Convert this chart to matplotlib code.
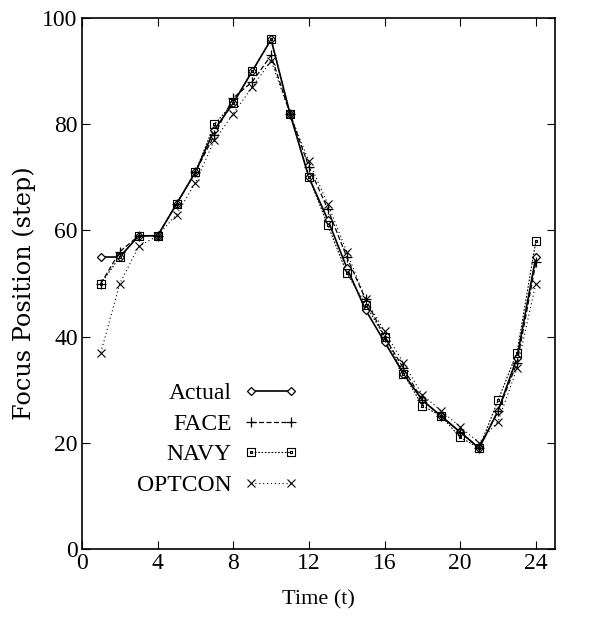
import numpy as np
import matplotlib
matplotlib.use("Agg")
import matplotlib.pyplot as plt
from matplotlib.path import Path

t = list(range(1, 25))
actual = [55, 55, 59, 59, 65, 71, 79, 84, 90, 96, 82, 70, 62, 53, 45, 39, 33, 28, 25, 22, 19, 26, 36, 55]
face = [50, 56, 59, 59, 65, 71, 78, 85, 88, 93, 82, 72, 64, 55, 47, 40, 34, 28, 25, 22, 19, 26, 35, 54]
navy = [50, 55, 59, 59, 65, 71, 80, 84, 90, 96, 82, 70, 61, 52, 46, 40, 33, 27, 25, 21, 19, 28, 37, 58]
optcon = [37, 50, 57, 59, 63, 69, 77, 82, 87, 92, 82, 73, 65, 56, 47, 41, 35, 29, 26, 23, 20, 24, 34, 50]

x_ticks = [0, 4, 8, 12, 16, 20, 24]
y_ticks = [0, 20, 40, 60, 80, 100]

serif = "Liberation Serif"

# square with a small dot in the middle, like gnuplot's boxed point
s = 0.25
boxdot = Path([(-1, -1), (1, -1), (1, 1), (-1, 1), (-1, -1),
               (-s, -s), (s, -s), (s, s), (-s, s), (-s, -s)],
              [Path.MOVETO, Path.LINETO, Path.LINETO, Path.LINETO, Path.CLOSEPOLY,
               Path.MOVETO, Path.LINETO, Path.LINETO, Path.LINETO, Path.CLOSEPOLY])

fig = plt.figure(figsize=(6.07, 6.28), dpi=100)
ax = fig.add_axes([0.135, 0.126, 0.779, 0.845])

ax.plot(t, actual, color="black", lw=1.2, ls="-", marker="D", ms=4.5,
        mfc="white", mec="black", mew=0.9, label="Actual")
ax.plot(t, face, color="black", lw=0.9, ls=(0, (4, 2)), marker="+", ms=7,
        mew=0.9, label="FACE")
ax.plot(t, navy, color="black", lw=0.8, ls=(0, (1.5, 1.5)), marker=boxdot, ms=5.5,
        mfc="none", mec="black", mew=0.8, label="NAVY")
ax.plot(t, optcon, color="black", lw=0.8, ls=(0, (1, 2.5)), marker="x", ms=6,
        mew=0.8, label="OPTCON")

ax.set_xlim(0, 25)
ax.set_ylim(0, 100)
ax.set_xticks(x_ticks)
ax.set_yticks(y_ticks)
ax.tick_params(direction="in", top=True, right=True, length=6, width=0.8,
               labelsize=17, pad=3)
for lbl in ax.get_xticklabels() + ax.get_yticklabels():
    lbl.set_fontfamily(serif)
for sp in ax.spines.values():
    sp.set_linewidth(1.2)

ax.set_xlabel("Time (t)", fontfamily=serif, fontsize=16, labelpad=12)
ax.set_ylabel("Focus Position (step)", fontfamily="DejaVu Serif", fontsize=17.2)
ax.yaxis.set_label_coords(-0.097, 0.482)

leg = ax.legend(loc="upper right", bbox_to_anchor=(0.482, 0.335), frameon=False,
                markerfirst=False, numpoints=2, handlelength=2.3, handletextpad=0.5,
                labelspacing=0.38, borderpad=0, prop={"family": serif, "size": 17})

fig.savefig("out.png", dpi=100)
